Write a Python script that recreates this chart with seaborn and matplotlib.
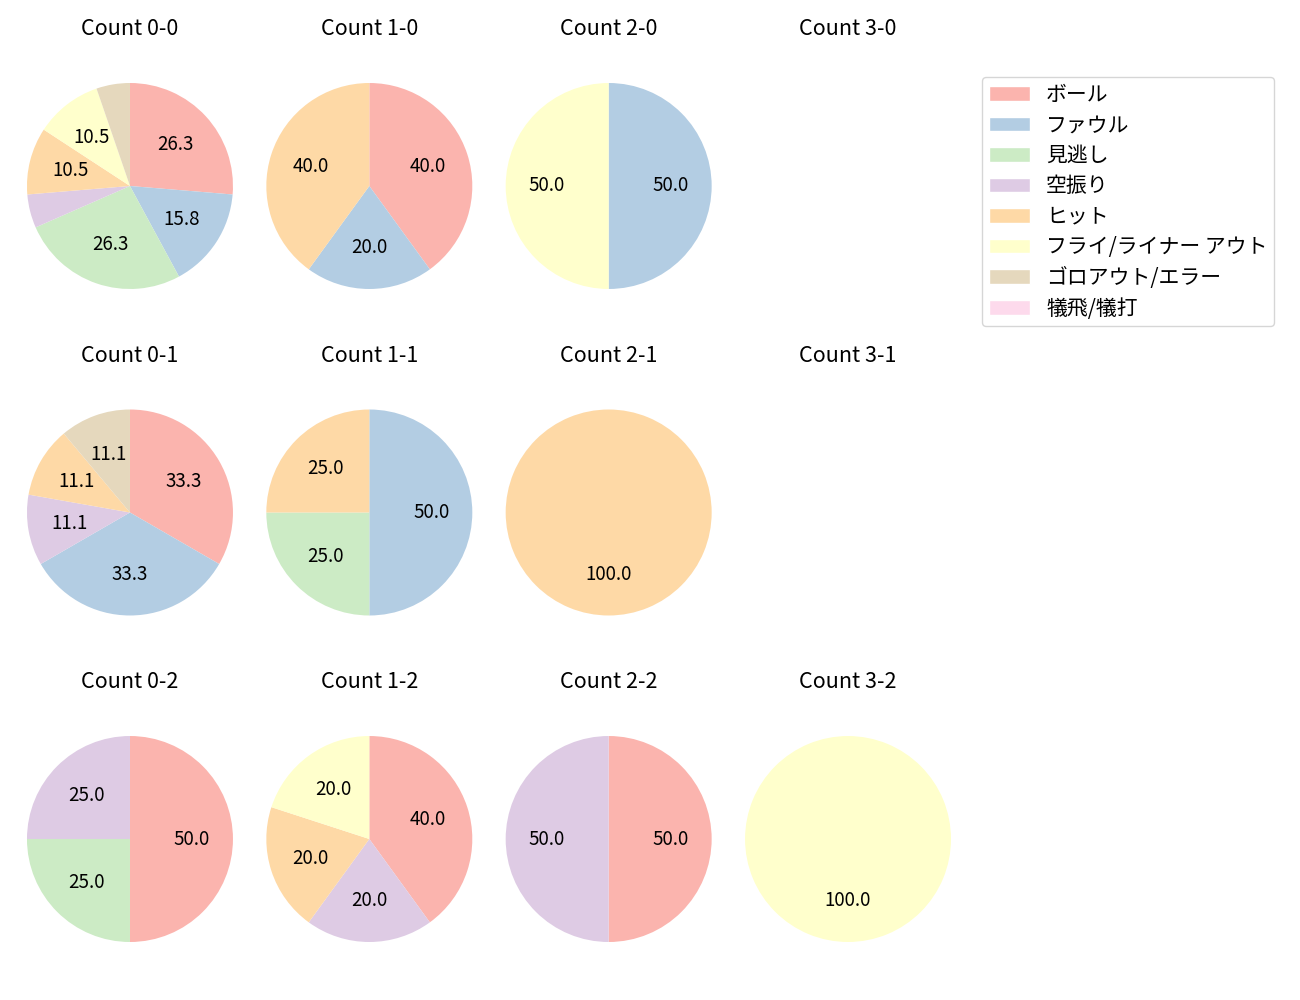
import matplotlib
matplotlib.use("Agg")
import matplotlib.pyplot as plt
import seaborn as sns
from matplotlib.patches import Patch

sns.set_theme(style="white")
plt.rcParams['font.family'] = ['Noto Sans CJK JP', 'DejaVu Sans']
plt.rcParams['text.color'] = 'black'

categories = ['ボール', 'ファウル', '見逃し', '空振り', 'ヒット',
              'フライ/ライナー アウト', 'ゴロアウト/エラー', '犠飛/犠打']

# counts per category, order as in categories
count_0_0 = [5, 3, 5, 1, 2, 2, 1, 0]
count_1_0 = [2, 1, 0, 0, 2, 0, 0, 0]
count_2_0 = [0, 1, 0, 0, 0, 1, 0, 0]
count_3_0 = [0, 0, 0, 0, 0, 0, 0, 0]
count_0_1 = [3, 3, 0, 1, 1, 0, 1, 0]
count_1_1 = [0, 2, 1, 0, 1, 0, 0, 0]
count_2_1 = [0, 0, 0, 0, 1, 0, 0, 0]
count_3_1 = [0, 0, 0, 0, 0, 0, 0, 0]
count_0_2 = [2, 0, 1, 1, 0, 0, 0, 0]
count_1_2 = [2, 0, 0, 1, 1, 1, 0, 0]
count_2_2 = [1, 0, 0, 1, 0, 0, 0, 0]
count_3_2 = [0, 0, 0, 0, 0, 1, 0, 0]

balls = [0, 1, 2, 3]
strikes = [0, 1, 2]

grid = {
    (0, 0): count_0_0, (1, 0): count_1_0, (2, 0): count_2_0, (3, 0): count_3_0,
    (0, 1): count_0_1, (1, 1): count_1_1, (2, 1): count_2_1, (3, 1): count_3_1,
    (0, 2): count_0_2, (1, 2): count_1_2, (2, 2): count_2_2, (3, 2): count_3_2,
}

colors = sns.color_palette('Pastel1', len(categories))

fig, axes = plt.subplots(3, 4, figsize=(13, 10), dpi=100)
fig.subplots_adjust(left=0.0128, right=0.7395, top=0.9273, bottom=0.0477,
                    wspace=0.056, hspace=0.441)

for s in strikes:
    for b in balls:
        ax = axes[s][b]
        vals = grid[(b, s)]
        ax.set_title(f'Count {b}-{s}', fontsize=15.5, pad=27, color='black')
        ax.axis('off')
        if sum(vals) == 0:
            continue
        idx = [i for i, v in enumerate(vals) if v > 0]
        ax.pie([vals[i] for i in idx],
               colors=[colors[i] for i in idx],
               startangle=90, counterclock=False,
               autopct=lambda p: f'{p:.1f}' if p >= 10 else '',
               pctdistance=0.6,
               wedgeprops={'linewidth': 0, 'edgecolor': 'none'},
               textprops={'fontsize': 13.5, 'color': 'black'})
        ax.set_aspect('equal')
        ax.set_xlim(-1.1, 1.1)
        ax.set_ylim(-1.1, 1.1)

handles = [Patch(facecolor=c, label=l) for c, l in zip(colors, categories)]
fig.legend(handles=handles, loc='upper left',
           bbox_to_anchor=(982 / 1300, 1 - 77 / 1000), borderaxespad=0,
           fontsize=15, frameon=True, handlelength=2.0, handleheight=0.7,
           handletextpad=0.75, labelspacing=0.41, borderpad=0.32,
           edgecolor='#cccccc', fancybox=True)

fig.savefig('out.png', dpi=100)
